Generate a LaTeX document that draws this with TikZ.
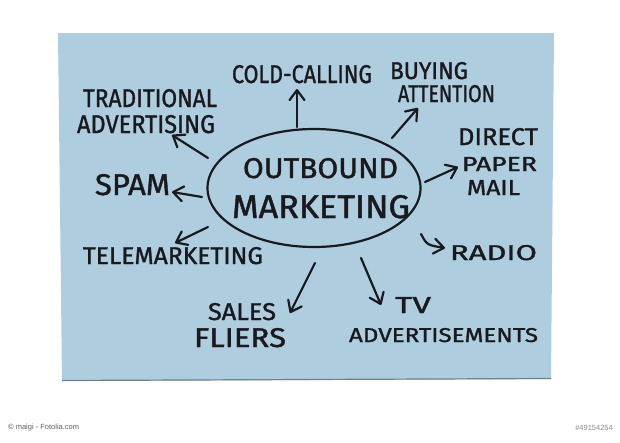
\documentclass[tikz,border=0pt]{standalone}
\usepackage{fontspec}
\usepackage{graphicx}
\usetikzlibrary{arrows.meta,shapes.geometric}
\newfontfamily\hand[FakeBold=1.3]{Fira Sans}
\newfontfamily\foot{Liberation Sans}
\definecolor{cardblue}{RGB}{174,206,223}
\definecolor{cardshadow}{RGB}{110,128,140}
\definecolor{ink}{RGB}{26,26,30}
\definecolor{footgray}{RGB}{95,95,95}
\definecolor{footlight}{RGB}{140,140,140}
\newcommand\hw[3]{\resizebox{#1pt}{#2pt}{\hand #3}}
\begin{document}
\begin{tikzpicture}[x=1pt,y=-1pt,
  lbl/.style={anchor=north west,inner sep=0pt,outer sep=0pt,text=ink},
  arr/.style={draw=ink,line width=2.2pt,line cap=round,line join=round,
    -{Straight Barb[length=10pt,width=15pt,round]}},
  hubstyle/.style={ellipse,draw=ink,line width=2.2pt,minimum width=213pt,minimum height=118pt,inner sep=0pt}]
\useasboundingbox (0,0) rectangle (620,442);
\fill[white] (0,0) rectangle (620,442);
% card
\fill[cardblue] (58,33) -- (554,33) -- (551,379) -- (62,381) -- cycle;
\draw[cardshadow,line width=1.2pt] (62,380.5) -- (551,378.5);
% hub
\node[hubstyle] (hub) at (314,188) {};
\node[lbl] (outbound) at (243,158) {\hw{155}{20}{OUTBOUND}};
\node[lbl] (marketing) at (232,195) {\hw{178}{23}{MARKETING}};
% labels
\node[lbl] (cold) at (232,65) {\hw{140}{18}{COLD-CALLING}};
\node[lbl] (buying) at (390,62) {\hw{78}{17}{BUYING}};
\node[lbl] (attention) at (398,85) {\hw{97}{17}{ATTENTION}};
\node[lbl] (trad) at (83,89) {\hw{134}{18}{TRADITIONAL}};
\node[lbl] (adv) at (77,115) {\hw{138}{18}{ADVERTISING}};
\node[lbl] (spam) at (95,174) {\hw{75}{21}{SPAM}};
\node[lbl] (direct) at (458,128) {\hw{80}{17}{DIRECT}};
\node[lbl] (paper) at (462,157) {\hw{75}{14}{PAPER}};
\node[lbl] (mail) at (467,180) {\hw{53}{15}{MAIL}};
\node[lbl] (radio) at (450,245) {\hw{87}{15}{RADIO}};
\node[lbl] (tele) at (83,247) {\hw{180}{17}{TELEMARKETING}};
\node[lbl] (sales) at (208,303) {\hw{68}{17}{SALES}};
\node[lbl] (fliers) at (194,328) {\hw{92}{19}{FLIERS}};
\node[lbl] (tv) at (395,297) {\hw{36}{16}{TV}};
\node[lbl] (tvadv) at (349,328) {\hw{189}{14}{ADVERTISEMENTS}};
% arrow ends
\coordinate (c1) at (297,127); \coordinate (h1) at (297,89);
\coordinate (c2) at (392,138); \coordinate (h2) at (418,108);
\coordinate (c3) at (208,158); \coordinate (h3) at (172,135);
\coordinate (c4) at (202,197); \coordinate (h4) at (172,192);
\coordinate (c5) at (208,227); \coordinate (h5) at (175,243);
\coordinate (c6) at (425,182); \coordinate (h6) at (458,167);
\coordinate (c7) at (421,234); \coordinate (h7) at (445,248);
\coordinate (c8) at (315,263); \coordinate (h8) at (290,313);
\coordinate (c9) at (361,258); \coordinate (h9) at (381,305);
\draw[arr] (c1) -- (h1);
\draw[arr] (c2) -- (h2);
\draw[arr] (c3) -- (h3);
\draw[arr] (c4) -- (h4);
\draw[arr] (c5) -- (h5);
\draw[arr] (c6) -- (h6);
\draw[arr] (c7) .. controls (427,245) .. (h7);
\draw[arr] (c8) -- (h8);
\draw[arr] (c9) -- (h9);
% footer
\node[anchor=west,inner sep=0pt,text=footgray,font=\foot\fontsize{7.5}{9}\selectfont] (credit) at (8,428) {© maigi - Fotolia.com};
\node[anchor=east,inner sep=0pt,text=footlight,font=\foot\fontsize{7.5}{9}\selectfont] (imgid) at (613,428) {\#49154254};
\end{tikzpicture}
\end{document}
